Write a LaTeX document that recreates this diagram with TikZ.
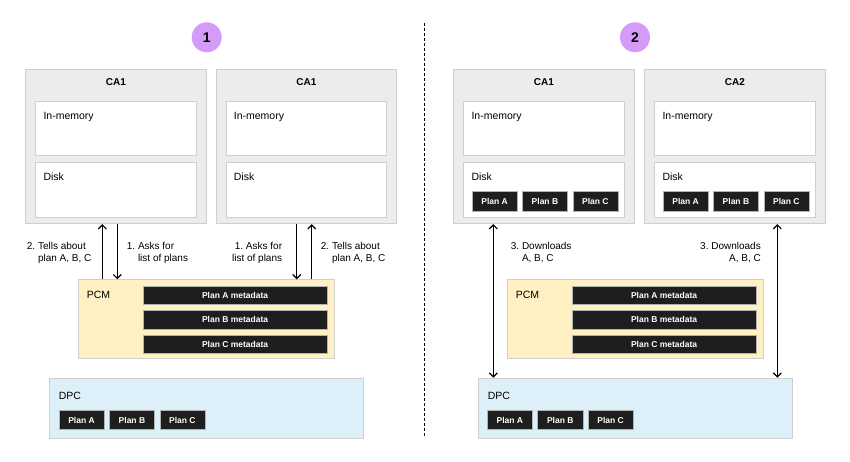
\documentclass[tikz,border=0pt]{standalone}
\usepackage{fontspec}
\setmainfont{Liberation Sans}
\usetikzlibrary{arrows.meta, positioning}

\definecolor{cagray}{HTML}{ECECEC}
\definecolor{edgegray}{HTML}{CFCFCF}
\definecolor{pcmyellow}{HTML}{FEF0C3}
\definecolor{dpcblue}{HTML}{DDEFF9}
\definecolor{planblack}{HTML}{1E1E1E}
\definecolor{dotpurple}{HTML}{D49CF8}

\begin{document}
\begin{tikzpicture}[x=1pt, y=1pt,
    frame/.style={rectangle, draw=edgegray, line width=0.8pt, inner sep=0pt},
    cabox/.style={frame, fill=cagray, minimum width=180.5pt, minimum height=154pt, anchor=north west},
    membox/.style={frame, fill=white, minimum width=160.5pt, minimum height=54.2pt},
    pcmbox/.style={frame, fill=pcmyellow, minimum width=256pt, minimum height=79pt, anchor=north west},
    dpcbox/.style={frame, fill=dpcblue, minimum width=314pt, minimum height=60.6pt, anchor=north west},
    planbox/.style={rectangle, draw=gray!60, fill=planblack, text=white, font=\fontsize{8.5}{10}\selectfont\bfseries, minimum width=45.3pt, minimum height=19pt, inner sep=0pt},
    metabox/.style={planbox, minimum width=184.4pt, minimum height=18.7pt},
    numdot/.style={circle, fill=dotpurple, minimum size=30pt, inner sep=0pt, font=\fontsize{14}{16}\selectfont\bfseries},
    title/.style={font=\fontsize{10}{12}\selectfont\bfseries, anchor=base, inner sep=0pt},
    tag/.style={font=\fontsize{10.5}{12}\selectfont, anchor=base west, inner sep=0pt},
    note/.style={font=\fontsize{10}{11.6}\selectfont, inner sep=0pt},
    arrow/.style={-{Straight Barb[length=4pt, width=8pt]}, line width=1.2pt},
    twoway/.style={{Straight Barb[length=4pt, width=8pt]}-{Straight Barb[length=4pt, width=8pt]}, line width=1.2pt}
]
\useasboundingbox (0,0) rectangle (850,461);

% Panel 1
\node[numdot] (one) at (206.7,423.7) {1};

\node[cabox] (ca1a) at (25.3,391.7) {};
\node[title] at ([yshift=-16.4pt]ca1a.north) {CA1};
\node[membox, below right=32pt and 10pt of ca1a.north west] (mem1a) {};
\node[membox, below=6pt of mem1a] (disk1a) {};
\node[tag] at ([xshift=8pt, yshift=-18.6pt]mem1a.north west) {In-memory};
\node[tag] at ([xshift=8pt, yshift=-18.4pt]disk1a.north west) {Disk};

\node[cabox] (ca1b) at (215.7,391.7) {};
\node[title] at ([yshift=-16.4pt]ca1b.north) {CA1};
\node[membox, below right=32pt and 10pt of ca1b.north west] (mem1b) {};
\node[membox, below=6pt of mem1b] (disk1b) {};
\node[tag] at ([xshift=8pt, yshift=-18.6pt]mem1b.north west) {In-memory};
\node[tag] at ([xshift=8pt, yshift=-18.4pt]disk1b.north west) {Disk};

\node[pcmbox] (pcm1) at (78.3,181.7) {};
\node[tag] at ([xshift=8.4pt, yshift=-18.7pt]pcm1.north west) {PCM};
\node[metabox, below left=6.4pt and 7.6pt of pcm1.north east] (meta1a) {Plan A metadata};
\node[metabox, below=5.3pt of meta1a] (meta1b) {Plan B metadata};
\node[metabox, below=5.3pt of meta1b] (meta1c) {Plan C metadata};

\node[dpcbox] (dpc1) at (49.3,83.3) {};
\node[tag] at ([xshift=9.4pt, yshift=-21.3pt]dpc1.north west) {DPC};
\node[planbox, above right=9.3pt and 9.4pt of dpc1.south west] (dplan1a) {Plan A};
\node[planbox, right=4.7pt of dplan1a] (dplan1b) {Plan B};
\node[planbox, right=4.7pt of dplan1b] (dplan1c) {Plan C};

\coordinate (tell1) at (102.3,0);
\coordinate (ask1) at (117.3,0);
\coordinate (ask2) at (296.7,0);
\coordinate (tell2) at (311.7,0);
\draw[arrow] (pcm1.north -| tell1) -- (ca1a.south -| tell1);
\draw[arrow] (ca1a.south -| ask1) -- (pcm1.north -| ask1);
\draw[arrow] (ca1b.south -| ask2) -- (pcm1.north -| ask2);
\draw[arrow] (pcm1.north -| tell2) -- (ca1b.south -| tell2);

\node[note, anchor=north west, align=left] at (26.7,218.9) {2.~Tells about\\\phantom{2.~}plan A, B, C};
\node[note, anchor=north west, align=left] at (126.7,218.9) {1.~Asks for\\\phantom{1.~}list of plans};
\node[note, anchor=north east, align=right] at (282.3,218.9) {1.~Asks for\\list of plans};
\node[note, anchor=north west, align=left] at (320.7,218.9) {2.~Tells about\\\phantom{2.~}plan A, B, C};

% Separator
\draw[dash pattern=on 3pt off 2pt, line width=1pt] (424.3,438) -- (424.3,24.3);

% Panel 2
\node[numdot] (two) at (635,423.7) {2};

\node[cabox] (ca2a) at (453.3,391.7) {};
\node[title] at ([yshift=-16.4pt]ca2a.north) {CA1};
\node[membox, below right=32pt and 10pt of ca2a.north west] (mem2a) {};
\node[membox, below=6pt of mem2a] (disk2a) {};
\node[tag] at ([xshift=8pt, yshift=-18.6pt]mem2a.north west) {In-memory};
\node[tag] at ([xshift=8pt, yshift=-18.4pt]disk2a.north west) {Disk};
\node[planbox, above right=6.4pt and 8.4pt of disk2a.south west] (plan2a) {Plan A};
\node[planbox, right=4.7pt of plan2a] (plan2b) {Plan B};
\node[planbox, right=4.7pt of plan2b] (plan2c) {Plan C};

\node[cabox] (ca2b) at (644.3,391.7) {};
\node[title] at ([yshift=-16.4pt]ca2b.north) {CA2};
\node[membox, below right=32pt and 10pt of ca2b.north west] (mem2b) {};
\node[membox, below=6pt of mem2b] (disk2b) {};
\node[tag] at ([xshift=8pt, yshift=-18.6pt]mem2b.north west) {In-memory};
\node[tag] at ([xshift=8pt, yshift=-18.4pt]disk2b.north west) {Disk};
\node[planbox, above right=6.4pt and 8.4pt of disk2b.south west] (plan2d) {Plan A};
\node[planbox, right=4.7pt of plan2d] (plan2e) {Plan B};
\node[planbox, right=4.7pt of plan2e] (plan2f) {Plan C};

\node[pcmbox] (pcm2) at (507.3,181.7) {};
\node[tag] at ([xshift=8.4pt, yshift=-18.7pt]pcm2.north west) {PCM};
\node[metabox, below left=6.4pt and 7.6pt of pcm2.north east] (meta2a) {Plan A metadata};
\node[metabox, below=5.3pt of meta2a] (meta2b) {Plan B metadata};
\node[metabox, below=5.3pt of meta2b] (meta2c) {Plan C metadata};

\node[dpcbox] (dpc2) at (478.3,83.3) {};
\node[tag] at ([xshift=9.4pt, yshift=-21.3pt]dpc2.north west) {DPC};
\node[planbox, above right=9.3pt and 8.7pt of dpc2.south west] (dplan2a) {Plan A};
\node[planbox, right=4.7pt of dplan2a] (dplan2b) {Plan B};
\node[planbox, right=4.7pt of dplan2b] (dplan2c) {Plan C};

\coordinate (down1) at (493.3,0);
\coordinate (down2) at (777.3,0);
\draw[twoway] (ca2a.south -| down1) -- (dpc2.north -| down1);
\draw[twoway] (ca2b.south -| down2) -- (dpc2.north -| down2);

\node[note, anchor=north west, align=left] at (510.7,218.9) {3.~Downloads\\\phantom{3.~}A, B, C};
\node[note, anchor=north east, align=right] at (761,218.9) {3.~Downloads\\A, B, C};
\end{tikzpicture}
\end{document}
